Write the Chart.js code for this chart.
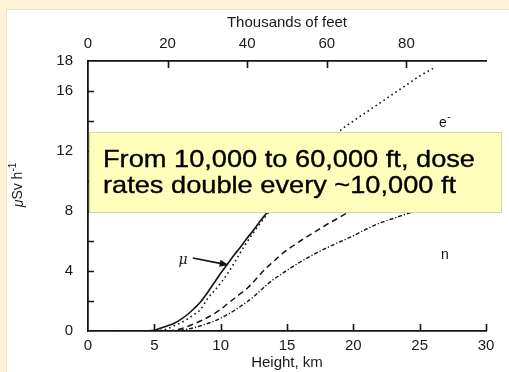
<!DOCTYPE html>
<html>
<head>
<meta charset="utf-8">
<script src="https://cdn.jsdelivr.net/npm/chart.js@4.4.1/dist/chart.umd.min.js"></script>
<style>
  html, body { margin: 0; padding: 0; background: #fcf3d8; }
  canvas { display: block; }
</style>
</head>
<body>
<canvas id="chart" width="509" height="372"></canvas>
<script>
// Dose-rate components (µSv/h) versus altitude (km)

// muons (solid)
const muonKm   = [0, 4, 5, 5.5, 6, 6.5, 7, 7.5, 8, 8.5, 9, 9.5, 10, 10.5, 11, 11.5, 12, 12.5, 13, 13.5, 14, 15, 15.5];
const muonDose = [0, 0, 0.05, 0.2, 0.35, 0.52, 0.78, 1.1, 1.5, 1.95, 2.55, 3.2, 3.85, 4.45, 5.05, 5.6, 6.2, 6.75, 7.35, 7.9, 8.5, 9.7, 10.3];

// electrons (dotted)
const electronKm   = [0, 4, 5, 5.5, 6, 6.5, 7, 7.5, 8, 8.5, 9, 9.5, 10, 10.5, 11, 11.5, 12, 12.5, 13, 14, 15, 16, 17, 18, 19, 20, 21, 22, 23, 24, 25, 26];
const electronDose = [0, 0, 0, 0.05, 0.15, 0.35, 0.55, 0.8, 1.1, 1.45, 2.15, 2.65, 3.2, 3.8, 4.5, 5.25, 5.95, 6.6, 7.2, 8.35, 9.45, 10.5, 11.5, 12.45, 13.35, 14.0, 14.6, 15.2, 15.8, 16.4, 17.0, 17.5];

// protons (dashed)
const protonKm   = [0, 6, 6.5, 7, 7.5, 8, 8.5, 9, 9.5, 10, 10.5, 11, 11.5, 12, 12.5, 13, 13.5, 14, 14.5, 15, 15.5, 16, 17, 18, 19, 20, 21, 22, 23];
const protonDose = [0, 0, 0.05, 0.15, 0.3, 0.48, 0.68, 0.9, 1.15, 1.45, 1.8, 2.15, 2.5, 2.85, 3.3, 3.8, 4.25, 4.65, 5.05, 5.4, 5.7, 6.0, 6.55, 7.1, 7.6, 8.1, 8.55, 9.0, 9.4];

// neutrons (dash-dot)
const neutronKm   = [0, 6.5, 7, 7.5, 8, 8.5, 9, 9.5, 10, 10.5, 11, 11.5, 12, 12.5, 13, 13.5, 14, 14.5, 15, 16, 17, 18, 19, 20, 21, 22, 23, 24, 25, 26, 27];
const neutronDose = [0, 0, 0.05, 0.12, 0.22, 0.35, 0.5, 0.65, 0.85, 1.1, 1.35, 1.65, 1.95, 2.3, 2.7, 3.1, 3.45, 3.75, 4.05, 4.6, 5.1, 5.55, 5.95, 6.35, 6.8, 7.2, 7.5, 7.8, 8.1, 8.35, 8.6];

// axis tick labels
const doseTickLabels = [0, 4, 8, 12, 16, 18];
const kmTickLabels   = [0, 5, 10, 15, 20, 25, 30];
const feetTickLabels = [0, 20, 40, 60, 80];

const annotationText = ['From 10,000 to 60,000 ft, dose', 'rates double every ~10,000 ft'];

const toPoints = (xs, ys) => xs.map((x, i) => ({ x, y: ys[i] }));

const INK = '#141414';
const LABEL = '#191919';
const FONT = '"Liberation Sans", Arial, Helvetica, sans-serif';

// cream page with a white panel behind the plot
const panelPlugin = {
  id: 'panel',
  beforeDraw(chart) {
    const ctx = chart.ctx;
    ctx.save();
    ctx.fillStyle = '#fcf3d8';
    ctx.fillRect(0, 0, chart.width, chart.height);
    ctx.fillStyle = '#ffffff';
    ctx.fillRect(7, 10, chart.width - 7, chart.height - 10);
    ctx.strokeStyle = '#ece3c6';
    ctx.lineWidth = 1;
    ctx.strokeRect(6.5, 9.5, chart.width, chart.height);
    ctx.restore();
  }
};

// tick marks pointing into the plot, plus curve labels and the µ arrow
const markPlugin = {
  id: 'marks',
  afterDatasetsDraw(chart) {
    const ctx = chart.ctx;
    const { x, y, x2 } = chart.scales;
    const area = chart.chartArea;
    ctx.save();
    ctx.strokeStyle = INK;
    ctx.lineWidth = 1.6;
    ctx.beginPath();
    x.ticks.forEach(t => {
      if (t.value === 0) return;
      const px = Math.round(x.getPixelForValue(t.value)) + 0.5;
      ctx.moveTo(px, area.bottom);
      ctx.lineTo(px, area.bottom - 7);
    });
    y.ticks.forEach(t => {
      if (t.value === 0 || t.value === 18) return;
      const py = Math.round(y.getPixelForValue(t.value)) + 0.5;
      ctx.moveTo(area.left, py);
      ctx.lineTo(area.left + 6, py);
    });
    x2.ticks.forEach(t => {
      if (t.value === 0 || !feetTickLabels.includes(t.value)) return;
      const px = Math.round(x2.getPixelForValue(t.value)) + 0.5;
      ctx.moveTo(px, area.top);
      ctx.lineTo(px, area.top + 7);
    });
    ctx.stroke();

    // µ label and arrow onto the muon curve
    const lx = x.getPixelForValue(7.16), ly = y.getPixelForValue(4.73);
    ctx.fillStyle = INK;
    ctx.font = 'italic 14px "DejaVu Serif", serif';
    ctx.textAlign = 'center';
    ctx.textBaseline = 'middle';
    ctx.fillText('\u03BC', lx, ly);

    const ax0 = x.getPixelForValue(7.9), ay0 = y.getPixelForValue(4.87);
    const ax1 = x.getPixelForValue(10.6), ay1 = y.getPixelForValue(4.4);
    const ang = Math.atan2(ay1 - ay0, ax1 - ax0);
    ctx.lineWidth = 1.6;
    ctx.beginPath();
    ctx.moveTo(ax0, ay0);
    ctx.lineTo(ax1 - 6 * Math.cos(ang), ay1 - 6 * Math.sin(ang));
    ctx.stroke();
    ctx.beginPath();
    ctx.moveTo(ax1, ay1);
    ctx.lineTo(ax1 - 9 * Math.cos(ang) + 3.5 * Math.sin(ang), ay1 - 9 * Math.sin(ang) - 3.5 * Math.cos(ang));
    ctx.lineTo(ax1 - 9 * Math.cos(ang) - 3.5 * Math.sin(ang), ay1 - 9 * Math.sin(ang) + 3.5 * Math.cos(ang));
    ctx.closePath();
    ctx.fill();

    // e⁻ and n labels
    ctx.font = '14px ' + FONT;
    const ex = x.getPixelForValue(26.9), ey = y.getPixelForValue(13.87);
    ctx.fillText('e', ex - 2, ey);
    ctx.font = '10px ' + FONT;
    ctx.fillText('-', ex + 4, ey - 6);
    ctx.font = '14px ' + FONT;
    ctx.fillText('n', x.getPixelForValue(26.9), y.getPixelForValue(5.07));

    // dose-rate axis title
    ctx.save();
    ctx.translate(18, 185);
    ctx.rotate(-Math.PI / 2);
    ctx.fillStyle = LABEL;
    ctx.textAlign = 'left';
    ctx.textBaseline = 'middle';
    ctx.font = 'italic 14px ' + FONT;
    const mu = '\u03BC';
    const rest = 'Sv h';
    ctx.font = '14px ' + FONT;
    const wRest = ctx.measureText(rest).width;
    ctx.font = 'italic 14px ' + FONT;
    const wMu = ctx.measureText(mu).width;
    ctx.font = '10px ' + FONT;
    const wSup = ctx.measureText('-1').width;
    let cx = -(wMu + wRest + wSup) / 2;
    ctx.font = 'italic 14px ' + FONT;
    ctx.fillText(mu, cx, 1);
    cx += wMu;
    ctx.font = '14px ' + FONT;
    ctx.fillText(rest, cx, 0);
    cx += wRest;
    ctx.font = '10px ' + FONT;
    ctx.fillText('-1', cx, -5);
    ctx.restore();

    ctx.restore();
  },
  // highlighted note laid over the plot
  afterDraw(chart) {
    const ctx = chart.ctx;
    const bx = 89, by = 132, bw = 413, bh = 81;
    ctx.save();
    ctx.fillStyle = '#ffffbb';
    ctx.fillRect(bx, by, bw, bh);
    ctx.strokeStyle = '#d6d6a2';
    ctx.lineWidth = 1;
    ctx.strokeRect(bx + 0.5, by + 0.5, bw - 1, bh - 1);
    ctx.fillStyle = '#000000';
    ctx.font = '24px ' + FONT;
    ctx.textAlign = 'left';
    ctx.textBaseline = 'alphabetic';
    const sx = 372 / ctx.measureText(annotationText[0]).width;
    ctx.translate(103, 0);
    ctx.scale(sx, 1);
    ctx.lineWidth = 0.35;
    ctx.strokeStyle = '#000000';
    ctx.fillText(annotationText[0], 0, 166.5);
    ctx.strokeText(annotationText[0], 0, 166.5);
    ctx.fillText(annotationText[1], 0, 193);
    ctx.strokeText(annotationText[1], 0, 193);
    ctx.restore();
  }
};

const axisFont = { family: FONT, size: 15 };

new Chart(document.getElementById('chart'), {
  type: 'line',
  data: {
    datasets: [
      { label: '\u03BC', data: toPoints(muonKm, muonDose), borderColor: INK, borderWidth: 1.6 },
      { label: 'e\u207B', data: toPoints(electronKm, electronDose), borderColor: INK, borderWidth: 1.6, borderDash: [1.6, 3.2] },
      { label: 'p', data: toPoints(protonKm, protonDose), borderColor: INK, borderWidth: 1.5, borderDash: [6, 4] },
      { label: 'n', data: toPoints(neutronKm, neutronDose), borderColor: INK, borderWidth: 1.4, borderDash: [4, 2, 1.2, 2] }
    ]
  },
  options: {
    responsive: false,
    animation: false,
    devicePixelRatio: 1,
    layout: { padding: { left: 0, right: 23, top: 0, bottom: 0 } },
    elements: {
      point: { radius: 0 },
      line: { tension: 0.4, cubicInterpolationMode: 'monotone', fill: false }
    },
    plugins: { legend: { display: false }, tooltip: { enabled: false } },
    scales: {
      x: {
        type: 'linear', position: 'bottom', min: 0, max: 30,
        grid: { drawOnChartArea: false, drawTicks: false },
        border: { display: true, color: INK, width: 1.8 },
        ticks: {
          stepSize: 5, autoSkip: false, maxRotation: 0, padding: 6, color: LABEL, font: axisFont,
          callback: v => kmTickLabels.includes(v) ? String(v) : ''
        },
        title: { display: true, text: 'Height, km', color: LABEL, font: axisFont, padding: { top: 0, bottom: 0 } },
        afterFit(s) { s.height = 41; }
      },
      x2: {
        type: 'linear', axis: 'x', position: 'top', min: 0, max: 100,
        grid: { drawOnChartArea: false, drawTicks: false },
        border: { display: true, color: INK, width: 1.8 },
        ticks: {
          stepSize: 20, autoSkip: false, maxRotation: 0, padding: 8, color: LABEL, font: axisFont,
          callback: v => feetTickLabels.includes(v) ? String(v) : ''
        },
        title: { display: true, text: 'Thousands of feet', color: LABEL, font: axisFont, padding: { top: 14, bottom: 0 } },
        afterFit(s) { s.height = 61; }
      },
      y: {
        type: 'linear', position: 'left', min: 0, max: 18,
        grid: { drawOnChartArea: false, drawTicks: false },
        border: { display: true, color: INK, width: 1.8 },
        ticks: {
          stepSize: 2, autoSkip: false, padding: 15, color: LABEL, font: axisFont,
          callback: v => doseTickLabels.includes(v) ? String(v) : ''
        },
        afterFit(s) { s.width = 88; }
      }
    }
  },
  plugins: [panelPlugin, markPlugin]
});
</script>
</body>
</html>
